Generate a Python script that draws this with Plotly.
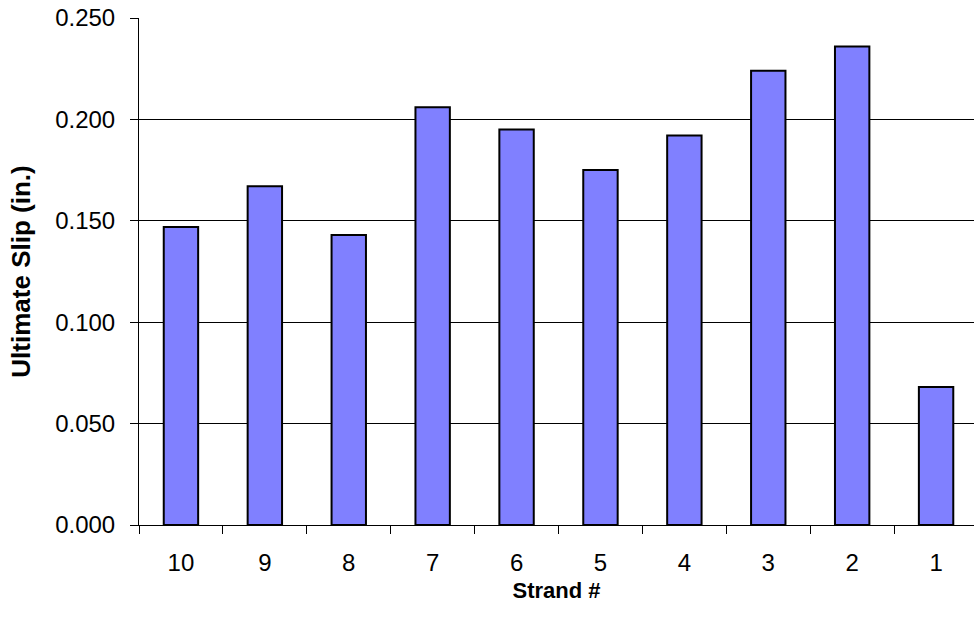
import plotly.graph_objects as go

# Ultimate slip measured per strand, listed in plotting order
strands = ["10", "9", "8", "7", "6", "5", "4", "3", "2", "1"]
ultimate_slip = [0.147, 0.167, 0.143, 0.206, 0.195, 0.175, 0.192, 0.224, 0.236, 0.068]

y_ticks = [0.0, 0.05, 0.10, 0.15, 0.20, 0.25]
y_tick_text = ["0.000", "0.050", "0.100", "0.150", "0.200", "0.250"]

font_family = "Liberation Sans, Arial, sans-serif"

fig = go.Figure()
fig.add_trace(go.Bar(
    x=strands,
    y=ultimate_slip,
    width=0.41,
    marker=dict(color="#8080FF", line=dict(color="#000000", width=2)),
    showlegend=False,
    hoverinfo="x+y",
))

x_range = [-0.5, 9.452]

fig.update_layout(
    width=974,
    height=624,
    margin=dict(l=139, r=0, t=18, b=99, autoexpand=False),
    paper_bgcolor="white",
    plot_bgcolor="white",
    font=dict(family=font_family, color="#000000"),
    bargap=0.59,
    xaxis=dict(
        type="category",
        range=x_range,
        tickson="boundaries",
        ticks="outside",
        ticklen=8,
        tickwidth=1,
        tickcolor="#000000",
        showline=True,
        linecolor="#000000",
        linewidth=1,
        showgrid=False,
        zeroline=False,
        tickfont=dict(size=24, family=font_family),
        ticklabelstandoff=16,
        title=dict(text="<b>Strand #</b>", font=dict(size=22, family=font_family), standoff=7),
        automargin=False,
    ),
    # companion axis that draws the upper half of the crossing tick marks
    xaxis2=dict(
        overlaying="x",
        anchor="y",
        side="bottom",
        range=x_range,
        tickmode="linear",
        tick0=-0.5,
        dtick=1,
        ticks="inside",
        ticklen=8,
        tickwidth=1,
        tickcolor="#000000",
        showticklabels=False,
        showgrid=False,
        showline=False,
        zeroline=False,
    ),
    yaxis=dict(
        range=[0, 0.25],
        tickmode="array",
        tickvals=y_ticks,
        ticktext=y_tick_text,
        ticks="outside",
        ticklen=8,
        tickwidth=1,
        tickcolor="#000000",
        showline=True,
        linecolor="#000000",
        linewidth=1,
        showgrid=True,
        gridcolor="#000000",
        gridwidth=1,
        zeroline=False,
        tickfont=dict(size=24, family=font_family),
        ticklabelstandoff=10,
        title=dict(text="<b>Ultimate Slip (in.)</b>", font=dict(size=26, family=font_family), standoff=17),
        automargin=False,
    ),
)

fig.write_html("out.html")
